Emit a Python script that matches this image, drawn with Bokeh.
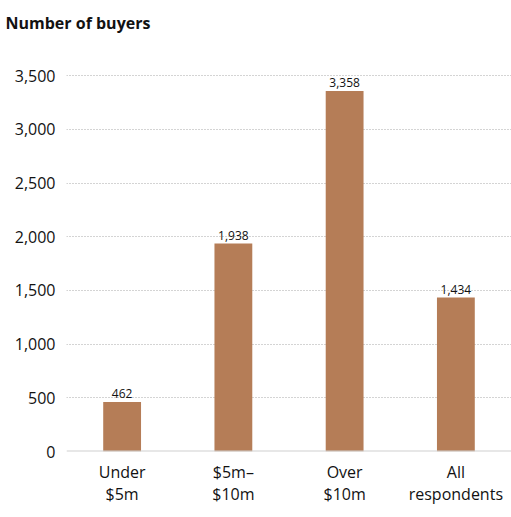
from bokeh.plotting import figure
from bokeh.models import ColumnDataSource, Range1d, FixedTicker, Span, NumeralTickFormatter
from bokeh.core.properties import value
from bokeh.embed import file_html
from bokeh.resources import INLINE

categories = ["Under\n$5m", "$5m–\n$10m", "Over\n$10m", "All\nrespondents"]
buyers = [462, 1938, 3358, 1434]
value_labels = ["462", "1,938", "3,358", "1,434"]
y_ticks = [0, 500, 1000, 1500, 2000, 2500, 3000, 3500]
title_text = "Number of buyers"

FONT = "Open Sans"
BAR = "#b57d57"
TXT = "#121212"

src = ColumnDataSource(dict(cat=categories, val=buyers, lab=value_labels))

p = figure(x_range=categories, y_range=Range1d(0, 3800), width=511, height=517,
           output_backend="svg", toolbar_location=None, title=title_text,
           min_border_left=66, min_border_right=0, min_border_top=42, min_border_bottom=66)
p.outline_line_color = None
p.background_fill_color = None
p.border_fill_color = None

p.title.align = "left"
p.title.offset = -61
p.title.text_font = FONT
p.title.text_font_size = "16px"
p.title.text_font_style = "bold"
p.title.text_color = TXT
p.title.standoff = 19

p.vbar(x="cat", top="val", width=0.34, source=src, fill_color=BAR, line_color=None)
p.text(x="cat", y="val", text="lab", source=src, text_align="center",
       text_baseline="alphabetic", y_offset=-8, text_font=value(FONT),
       text_font_size="12px", text_color=TXT)

# axes
p.yaxis.ticker = FixedTicker(ticks=y_ticks)
p.yaxis.formatter = NumeralTickFormatter(format="0,0")
p.yaxis.axis_line_color = None
p.yaxis.major_tick_line_color = None
p.yaxis.minor_tick_line_color = None
p.yaxis.major_label_standoff = 5
p.yaxis.major_label_text_font = FONT
p.yaxis.major_label_text_font_size = "16px"
p.yaxis.major_label_text_color = TXT

p.xaxis.axis_line_color = None
p.xaxis.major_tick_line_color = None
p.xaxis.major_label_standoff = 3
p.xaxis.major_label_text_font = FONT
p.xaxis.major_label_text_font_size = "16px"
p.xaxis.major_label_text_color = TXT
p.xaxis.major_label_text_line_height = 1.03

p.xgrid.grid_line_color = None
p.ygrid.grid_line_color = "#a8a8a8"
p.ygrid.grid_line_dash = "1 2"
p.ygrid.grid_line_width = 1

p.add_layout(Span(location=0, dimension="width", line_color="#d0d0d0", line_width=2))

open("out.html", "w").write(file_html(p, INLINE))
